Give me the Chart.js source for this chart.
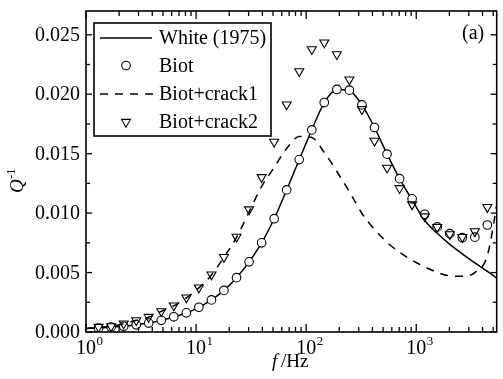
<!DOCTYPE html>
<html>
<head>
<meta charset="utf-8">
<script src="https://cdn.jsdelivr.net/npm/chart.js@4/dist/chart.umd.min.js"></script>
<style>
  html, body { margin: 0; padding: 0; background: #fff; }
  #wrap { width: 503px; height: 379px; }
</style>
</head>
<body>
<div id="wrap"><canvas id="qChart" width="503" height="379"></canvas></div>
<script>
/* ---------- data ---------- */
// sample frequencies of the Biot / crack2 markers (Hz)
const freq = [1.3, 1.69, 2.2, 2.86, 3.71, 4.83, 6.27, 8.16, 10.6, 13.8, 17.9, 23.3, 30.3, 39.4,
  51.2, 66.5, 86.5, 112.5, 146, 190, 247, 321, 417.5, 543, 706, 917, 1192, 1550, 2015, 2620, 3406, 4427];

const biotQ = [0.00032, 0.00042, 0.00048, 0.0006, 0.00075, 0.00098, 0.00128, 0.00161, 0.00208, 0.0027,
  0.0035, 0.00457, 0.0059, 0.0075, 0.00953, 0.01195, 0.0145, 0.0170, 0.0193, 0.0204, 0.02034, 0.0191,
  0.0172, 0.01496, 0.0129, 0.0112, 0.0099, 0.00884, 0.00827, 0.00793, 0.00798, 0.0090];

const crack2Q = [0.00042, 0.00048, 0.00071, 0.00098, 0.00126, 0.00174, 0.00222, 0.00289, 0.00373, 0.00483,
  0.0063, 0.0080, 0.01031, 0.01302, 0.0160, 0.01913, 0.02192, 0.02378, 0.02434, 0.02336, 0.02123, 0.01874,
  0.01608, 0.01381, 0.01209, 0.01073, 0.00972, 0.00882, 0.00821, 0.00798, 0.00846, 0.0105];

// curves (solid White 1975, dashed Biot+crack1)
const lineFreq = [1, 1.3, 1.69, 2.2, 2.86, 3.71, 4.83, 6.27, 8.16, 10.6, 13.8, 17.9, 23.3, 30.3, 39.4,
  51.2, 66.5, 86.5, 112.5, 146, 190, 247, 321, 417.5, 543, 706, 917, 1192, 1550, 2015, 2620, 3406, 4427, 5756];

const whiteQ = [0.0003, 0.00034, 0.00041, 0.00049, 0.0006, 0.00075, 0.00097, 0.00127, 0.0016, 0.00207, 0.0027,
  0.0035, 0.00457, 0.0059, 0.0075, 0.00953, 0.01195, 0.0145, 0.0170, 0.0193, 0.0204, 0.0203, 0.0191,
  0.0172, 0.01496, 0.0129, 0.0111, 0.0094, 0.0083, 0.00737, 0.00657, 0.00581, 0.0051, 0.00435];

const crack1Q = [0.0003, 0.00039, 0.00048, 0.00069, 0.00098, 0.00124, 0.00174, 0.0022, 0.00287, 0.00371,
  0.0048, 0.00628, 0.00796, 0.0101, 0.01224, 0.01384, 0.01544, 0.01644, 0.01636, 0.0151, 0.0135, 0.0118,
  0.00997, 0.00863, 0.00754, 0.0067, 0.00603, 0.00548, 0.00502, 0.00472, 0.00468, 0.005, 0.00645, 0.0123];

const xMajor = [1, 10, 100, 1000];
const xMajorExp = ['0', '1', '2', '3'];
const yTicks = [0, 0.005, 0.01, 0.015, 0.02, 0.025];
const yTickLabels = ['0.000', '0.005', '0.010', '0.015', '0.020', '0.025'];

const seriesNames = ['White (1975)', 'Biot', 'Biot+crack1', 'Biot+crack2'];

/* ---------- helpers ---------- */
const SERIF = '"Liberation Serif", "Times New Roman", serif';
const pts = (xs, ys) => xs.map((v, i) => ({ x: v, y: ys[i] }));

function seg(ctx, x1, y1, x2, y2) {
  ctx.beginPath();
  ctx.moveTo(x1, y1);
  ctx.lineTo(x2, y2);
  ctx.stroke();
}

/* ---------- frame, ticks, labels, legend ---------- */
const framePlugin = {
  id: 'framePlugin',
  afterDraw(chart) {
    const { ctx, chartArea: a, scales: { x, y } } = chart;
    ctx.save();
    ctx.strokeStyle = '#000';
    ctx.fillStyle = '#000';

    // box
    ctx.lineWidth = 1.6;
    ctx.strokeRect(a.left, a.top, a.right - a.left, a.bottom - a.top);

    // x ticks (inward, top and bottom)
    ctx.lineWidth = 1.3;
    for (let d = 1; d <= 1000; d *= 10) {
      for (let m = 1; m <= 9; m++) {
        const v = d * m;
        if (v > x.max) continue;
        const px = x.getPixelForValue(v);
        const len = m === 1 ? 8 : 5;
        seg(ctx, px, a.bottom, px, a.bottom - len);
        seg(ctx, px, a.top, px, a.top + len);
      }
    }

    // y ticks (inward, left and right)
    for (let i = 0; i < yTicks.length; i++) {
      const py = y.getPixelForValue(yTicks[i]);
      seg(ctx, a.left, py, a.left + 6, py);
      seg(ctx, a.right, py, a.right - 6, py);
      const mid = yTicks[i] + 0.0025;
      if (mid < y.max) {
        const pm = y.getPixelForValue(mid);
        seg(ctx, a.left, pm, a.left + 4, pm);
        seg(ctx, a.right, pm, a.right - 4, pm);
      }
    }

    // y tick labels
    ctx.font = '20px ' + SERIF;
    ctx.textAlign = 'right';
    ctx.textBaseline = 'middle';
    yTicks.forEach((v, i) => {
      ctx.fillText(yTickLabels[i], a.left - 6, y.getPixelForValue(v) + 1);
    });

    // x tick labels: 10 with superscript exponent
    xMajor.forEach((v, i) => {
      const px = x.getPixelForValue(v);
      ctx.font = '20px ' + SERIF;
      ctx.textAlign = 'center';
      ctx.textBaseline = 'alphabetic';
      ctx.fillText('10', px, a.bottom + 22);
      const w = ctx.measureText('10').width;
      ctx.font = '13px ' + SERIF;
      ctx.textAlign = 'left';
      ctx.fillText(xMajorExp[i], px + w / 2 + 0.5, a.bottom + 13);
    });

    // x title: f /Hz
    ctx.textAlign = 'left';
    ctx.textBaseline = 'alphabetic';
    ctx.font = 'italic 19px ' + SERIF;
    ctx.fillText('f', 272, 367);
    ctx.font = '19px ' + SERIF;
    ctx.fillText('/Hz', 281, 367);

    // y title: Q^-1 rotated
    ctx.save();
    ctx.translate(23, 193);
    ctx.rotate(-Math.PI / 2);
    ctx.font = 'italic 19px ' + SERIF;
    ctx.fillText('Q', 0, 0);
    const qw = ctx.measureText('Q').width;
    ctx.font = '12px ' + SERIF;
    ctx.fillText('-1', qw + 0.5, -8);
    ctx.restore();

    // panel tag
    ctx.font = '20px ' + SERIF;
    ctx.fillText('(a)', 462, 39);

    // legend
    const L = { x1: 94, y1: 23, x2: 271, y2: 136 };
    ctx.fillStyle = '#fff';
    ctx.fillRect(L.x1, L.y1, L.x2 - L.x1, L.y2 - L.y1);
    ctx.lineWidth = 1.6;
    ctx.strokeRect(L.x1, L.y1, L.x2 - L.x1, L.y2 - L.y1);
    const rows = [38, 65.5, 94, 122];
    ctx.fillStyle = '#000';
    ctx.font = '20px ' + SERIF;
    ctx.textBaseline = 'middle';
    seriesNames.forEach((name, i) => ctx.fillText(name, 159, rows[i] + 1));

    ctx.lineWidth = 1.5;
    seg(ctx, 100, rows[0], 152, rows[0]);
    ctx.setLineDash([8, 7]);
    seg(ctx, 100, rows[2], 155, rows[2]);
    ctx.setLineDash([]);
    ctx.lineWidth = 1.1;
    ctx.fillStyle = '#fff';
    Chart.helpers.drawPoint(ctx, { pointStyle: 'circle', radius: 4.3, rotation: 0, borderWidth: 1.1 }, 126, rows[1]);
    ctx.fillStyle = 'rgba(0,0,0,0)';
    Chart.helpers.drawPoint(ctx, { pointStyle: 'triangle', radius: 5.2, rotation: 180, borderWidth: 1.1 }, 126, rows[3]);

    ctx.restore();
  }
};

/* ---------- chart ---------- */
new Chart(document.getElementById('qChart'), {
  type: 'line',
  data: {
    datasets: [
      {
        label: seriesNames[3],
        data: pts(freq, crack2Q),
        showLine: false,
        pointStyle: 'triangle',
        pointRotation: 180,
        pointRadius: 5.2,
        pointBorderWidth: 1.1,
        pointBorderColor: '#000',
        pointBackgroundColor: 'rgba(0,0,0,0)',
        order: 0
      },
      {
        label: seriesNames[2],
        data: pts(lineFreq, crack1Q),
        borderColor: '#000',
        borderWidth: 1.5,
        borderDash: [8, 7],
        pointRadius: 0,
        cubicInterpolationMode: 'monotone',
        order: 1
      },
      {
        label: seriesNames[1],
        data: pts(freq, biotQ),
        showLine: false,
        pointStyle: 'circle',
        pointRadius: 4.3,
        pointBorderWidth: 1.1,
        pointBorderColor: '#000',
        pointBackgroundColor: '#fff',
        order: 2
      },
      {
        label: seriesNames[0],
        data: pts(lineFreq, whiteQ),
        borderColor: '#000',
        borderWidth: 1.5,
        pointRadius: 0,
        cubicInterpolationMode: 'monotone',
        order: 3
      }
    ]
  },
  options: {
    responsive: false,
    devicePixelRatio: 1,
    animation: false,
    events: [],
    layout: { padding: { left: 86, right: -1, top: 11, bottom: 47 } },
    plugins: { legend: { display: false }, tooltip: { enabled: false } },
    scales: {
      x: { type: 'logarithmic', min: 1, max: 5380, display: false },
      y: { type: 'linear', min: 0, max: 0.027, display: false }
    }
  },
  plugins: [framePlugin]
});
</script>
</body>
</html>
